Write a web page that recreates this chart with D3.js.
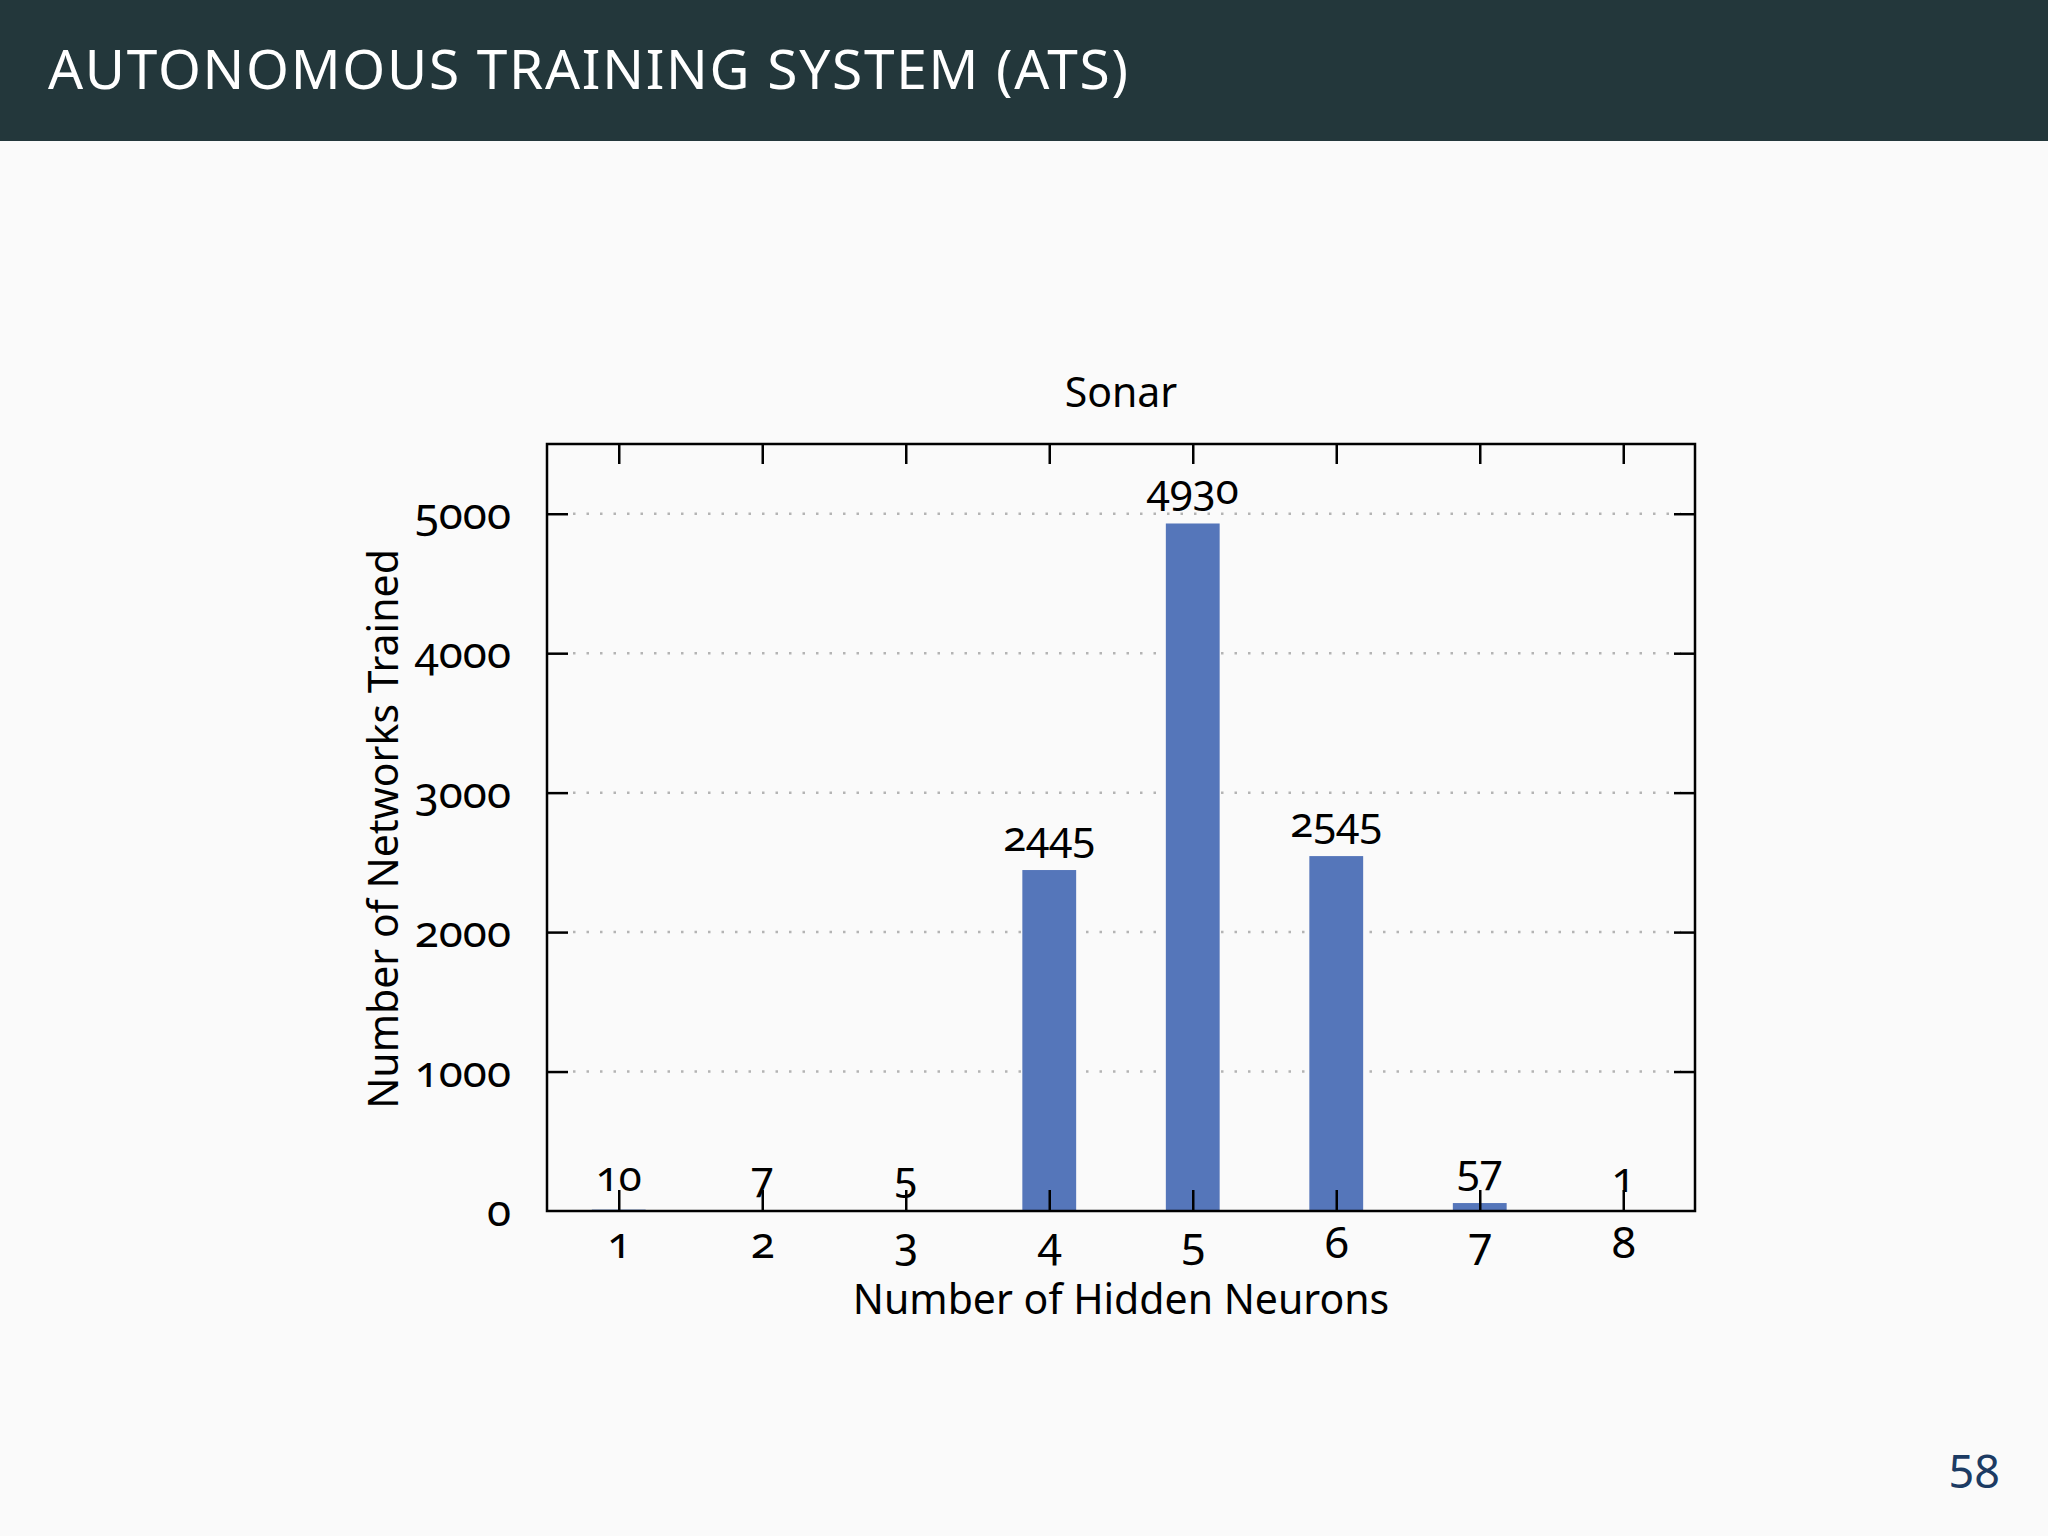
<!DOCTYPE html>
<html>
<head>
<meta charset="utf-8">
<script src="https://cdn.jsdelivr.net/npm/d3@7"></script>
<style>
  body { margin: 0; background: #fafafa; }
  svg text { font-family: "Noto Sans", "Open Sans", sans-serif; font-variant-numeric: oldstyle-nums; font-feature-settings: "onum" 1; }
</style>
</head>
<body>
<script>
// chart data
var neurons = [1, 2, 3, 4, 5, 6, 7, 8];
var trained = [10, 7, 5, 2445, 4930, 2545, 57, 1];
var yTicks = [0, 1000, 2000, 3000, 4000, 5000];

var W = 2048, H = 1536;
var m = {left: 547, right: 1695, top: 444, bottom: 1211};

var svg = d3.select("body").append("svg")
  .attr("width", W).attr("height", H);

svg.append("rect").attr("width", W).attr("height", H).style("fill", "#fafafa");

// header band
svg.append("rect").attr("x", 0).attr("y", 0).attr("width", W).attr("height", 141)
  .style("fill", "#23373b");
svg.append("text").attr("x", 48).attr("y", 89)
  .attr("textLength", 1082).attr("lengthAdjust", "spacing")
  .style("font-size", "55px").style("fill", "#ffffff").style("letter-spacing", "2px")
  .text("AUTONOMOUS TRAINING SYSTEM (ATS)");

// page number
svg.append("text").attr("x", 2000).attr("y", 1488).attr("text-anchor", "end")
  .style("font-size", "45px").style("fill", "#1c3b63").style("font-variant-numeric", "normal")
  .style("font-feature-settings", "normal")
  .text("58");

var x = d3.scaleLinear().domain([0.5, 8.5]).range([m.left, m.right]);
var y = d3.scaleLinear().domain([0, 5500]).range([m.bottom, m.top]);
var barW = (x(2) - x(1)) * 0.375;

// grid
svg.append("g").selectAll("line").data(yTicks.filter(function(d){ return d > 0; }))
  .enter().append("line")
  .attr("x1", m.left + 26).attr("x2", m.right - 14)
  .attr("y1", function(d){ return y(d); }).attr("y2", function(d){ return y(d); })
  .style("stroke", "#b4b4b4").style("stroke-width", 2.5).style("stroke-dasharray", "2.5,11");

// bars
svg.append("g").selectAll("rect").data(neurons)
  .enter().append("rect")
  .attr("x", function(d){ return x(d) - barW / 2; })
  .attr("width", barW)
  .attr("y", function(d, i){ return y(trained[i]); })
  .attr("height", function(d, i){ return m.bottom - y(trained[i]); })
  .style("fill", "#5576ba");

// axes, ticks pointing inward
var fontStyle = function(g) {
  g.select(".domain").remove();
  g.selectAll("line").style("stroke", "#000").style("stroke-width", 2.5);
  g.selectAll("text").style("font-size", "44px").style("fill", "#000");
};

svg.append("g").attr("transform", "translate(0," + m.bottom + ")")
  .call(d3.axisBottom(x).tickValues(neurons).tickSize(-21).tickPadding(0).tickFormat(d3.format("d")))
  .call(fontStyle)
  .selectAll("text").attr("y", 47).attr("dy", 0);

svg.append("g").attr("transform", "translate(0," + m.top + ")")
  .call(d3.axisTop(x).tickValues(neurons).tickSize(-20).tickFormat(""))
  .call(fontStyle);

svg.append("g").attr("transform", "translate(" + m.left + ",0)")
  .call(d3.axisLeft(y).tickValues(yTicks.filter(function(d){ return d > 0; })).tickSize(-21).tickFormat(""))
  .call(fontStyle);

// y tick labels (0 included, but no tick mark at 0)
svg.append("g").selectAll("text").data(yTicks)
  .enter().append("text")
  .attr("x", 511).attr("y", function(d){ return y(d) + 15; })
  .attr("text-anchor", "end")
  .style("font-size", "44px").style("fill", "#000")
  .text(function(d){ return d; });

svg.append("g").attr("transform", "translate(" + m.right + ",0)")
  .call(d3.axisRight(y).tickValues(yTicks.filter(function(d){ return d > 0; })).tickSize(-21).tickFormat(""))
  .call(fontStyle);

// frame
svg.append("rect").attr("x", m.left).attr("y", m.top)
  .attr("width", m.right - m.left).attr("height", m.bottom - m.top)
  .style("fill", "none").style("stroke", "#000").style("stroke-width", 2.5);

// value labels
svg.append("g").selectAll("text").data(neurons)
  .enter().append("text")
  .attr("x", function(d){ return x(d); })
  .attr("y", function(d, i){ return y(trained[i]) - 19; })
  .attr("text-anchor", "middle")
  .style("font-size", "42px").style("fill", "#000")
  .text(function(d, i){ return trained[i]; });

// titles
svg.append("text").attr("x", (m.left + m.right) / 2).attr("y", 407)
  .attr("text-anchor", "middle").style("font-size", "41px").text("Sonar");

svg.append("text").attr("x", (m.left + m.right) / 2).attr("y", 1314)
  .attr("text-anchor", "middle").style("font-size", "41px").text("Number of Hidden Neurons");

svg.append("text").attr("transform", "translate(398,829) rotate(-90)")
  .attr("text-anchor", "middle").style("font-size", "41px").text("Number of Networks Trained");
</script>
</body>
</html>
